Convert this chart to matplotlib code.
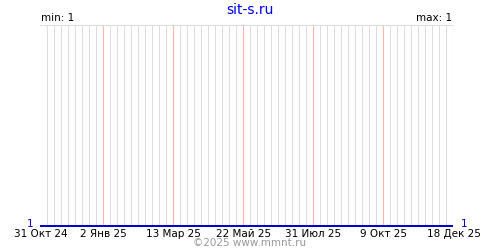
import matplotlib
matplotlib.use("Agg")
import matplotlib.pyplot as plt
import datetime as dt

title = "sit-s.ru"
dates = ["2024-10-31", "2025-12-18"]
values = [1, 1]
tick_dates = ["2024-10-31", "2025-01-02", "2025-03-13", "2025-05-22",
              "2025-07-31", "2025-10-09", "2025-12-18"]
tick_labels = ["31 Окт 24", "2 Янв 25", "13 Мар 25", "22 Май 25",
               "31 Июл 25", "9 Окт 25", "18 Дек 25"]
min_label = "min: 1"
max_label = "max: 1"
left_val = "1"
right_val = "1"
footer = "©2025 www.mmnt.ru"

d = [dt.datetime.strptime(s, "%Y-%m-%d") for s in dates]
td = [dt.datetime.strptime(s, "%Y-%m-%d") for s in tick_dates]

W, H = 500, 250
fig = plt.figure(figsize=(5, 2.5), dpi=100)
ax = fig.add_axes([40.5 / W, (H - 225.5) / H, 413 / W, 200 / H])
ax.set_xlim(d[0], d[-1])
ax.set_ylim(1, 2)

# weekly gray grid (pink at labelled dates)
wk = d[0]
while wk <= d[-1]:
    if wk not in td:
        ax.axvline(wk, color="#dddddd", lw=0.72, zorder=1, snap=False)
    wk += dt.timedelta(days=7)
for t in td:
    ax.axvline(t, color="#ffb4b4", lw=0.8, zorder=2, snap=False)

ax.plot(d, values, color="#0000cc", lw=1.44, zorder=3, clip_on=False,
        solid_capstyle="butt")

for s in ["left", "right", "bottom"]:
    ax.spines[s].set_visible(False)
ax.spines["top"].set_color("#dddddd")
ax.spines["top"].set_linewidth(0.72)
ax.spines["top"].set_snap(False)

ax.set_xticks(td)
ax.set_xticklabels(tick_labels, fontsize=7.5)
ax.tick_params(axis="x", length=0, pad=2.5)
ax.set_yticks([])

fig.text(0.5, 0.962, title, color="#0000ee", fontsize=10, ha="center", va="center")
fig.text(0.082, 0.928, min_label, fontsize=7.5, ha="left", va="center")
fig.text(0.904, 0.928, max_label, fontsize=7.5, ha="right", va="center")
fig.text(0.061, 0.104, left_val, fontsize=7.5, color="#0000cc", ha="center", va="center")
fig.text(0.928, 0.104, right_val, fontsize=7.5, color="#0000cc", ha="center", va="center")
fig.text(0.5, 0.028, footer, fontsize=7.5, color="#999999", ha="center", va="center")

fig.savefig("out.png", dpi=100)
